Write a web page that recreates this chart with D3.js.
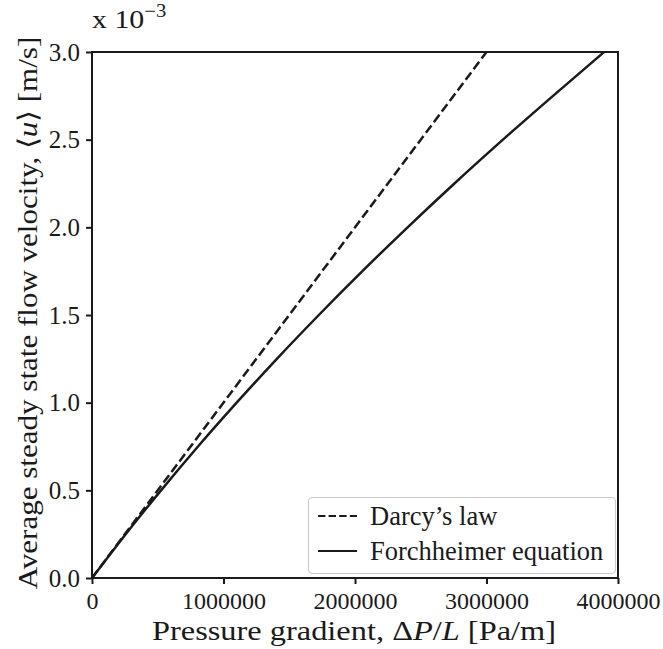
<!DOCTYPE html>
<html>
<head>
<meta charset="utf-8">
<script src="https://cdn.jsdelivr.net/npm/d3@7"></script>
</head>
<body style="margin:0">
<svg id="chart" width="663" height="649"></svg>
<script>
// Data (velocity in units of 1e-3 m/s)
const darcyPressure = [0, 3000000];
const darcyVelocity = [0, 3.0];
const forchVelocity = [0, 0.25, 0.5, 0.75, 1.0, 1.25, 1.5, 1.75, 2.0, 2.25, 2.5, 2.75, 3.0];
const forchPressure = [0, 256000, 525000, 806000, 1100000, 1406000, 1725000, 2056000, 2400000, 2756000, 3125000, 3506000, 3895000];
const xTicks = [0, 1000000, 2000000, 3000000, 4000000];
const yTicks = [0.0, 0.5, 1.0, 1.5, 2.0, 2.5, 3.0];
const legendLabels = ["Darcy\u2019s law", "Forchheimer equation"];

const FONT = "Liberation Serif";
const svg = d3.select("#chart");
const m = { left: 92, top: 52, right: 618, bottom: 578 };
const x = d3.scaleLinear().domain([0, 4000000]).range([m.left, m.right]);
const y = d3.scaleLinear().domain([0, 3.0]).range([m.bottom, m.top]);
const ink = "#1a1a1a";

function serif(sel) { return sel.attr("font-family", FONT).style("font-family", FONT); }

svg.append("clipPath").attr("id", "clip").append("rect")
  .attr("x", m.left).attr("y", m.top).attr("width", m.right - m.left).attr("height", m.bottom - m.top);

const line = d3.line().x(d => x(d[0])).y(d => y(d[1]));
const darcy = darcyPressure.map((p, i) => [p, darcyVelocity[i]]);
const forch = forchPressure.map((p, i) => [p, forchVelocity[i]]);

const g = svg.append("g").attr("clip-path", "url(#clip)");
g.append("path").datum(darcy).attr("d", line).attr("fill", "none")
  .attr("stroke", ink).attr("stroke-width", 2.5).attr("stroke-dasharray", "9.25,4");
g.append("path").datum(forch).attr("d", d3.line().curve(d3.curveMonotoneX).x(d => x(d[0])).y(d => y(d[1])))
  .attr("fill", "none").attr("stroke", ink).attr("stroke-width", 2.5);

// Axes
const xAxis = d3.axisBottom(x).tickValues(xTicks).tickFormat(d => String(d)).tickSize(6).tickPadding(8);
const yAxis = d3.axisLeft(y).tickValues(yTicks).tickFormat(d3.format(".1f")).tickSize(6).tickPadding(6);
const gx = svg.append("g").attr("transform", `translate(0,${m.bottom})`).call(xAxis);
const gy = svg.append("g").attr("transform", `translate(${m.left},0)`).call(yAxis);
[gx, gy].forEach(a => {
  serif(a).attr("font-size", 24);
  a.select(".domain").remove();
  a.selectAll(".tick line").attr("stroke", ink).attr("stroke-width", 2);
  serif(a.selectAll(".tick text")).attr("font-size", 24).attr("fill", ink);
});
serif(gy.selectAll(".tick text")).attr("font-size", 25).attr("dy", "0.33em");

// Frame
svg.append("rect").attr("x", m.left).attr("y", m.top)
  .attr("width", m.right - m.left).attr("height", m.bottom - m.top)
  .attr("fill", "none").attr("stroke", ink).attr("stroke-width", 2);

// Axis labels (Computer-Modern-like width: stretched horizontally)
const xl = serif(svg.append("text"))
  .attr("transform", `translate(${(m.left + m.right) / 2 - 1},640) scale(1.2,1)`)
  .attr("text-anchor", "middle").attr("font-size", 27).attr("fill", ink);
xl.append("tspan").text("Pressure gradient, \u0394");
xl.append("tspan").attr("font-style", "italic").text("P");
xl.append("tspan").text("/");
xl.append("tspan").attr("font-style", "italic").text("L");
xl.append("tspan").text(" [Pa/m]");

const yl = serif(svg.append("text"))
  .attr("transform", `translate(37,${(m.top + m.bottom) / 2 - 2}) rotate(-90) scale(1.15,1)`)
  .attr("text-anchor", "middle").attr("font-size", 27).attr("fill", ink);
yl.append("tspan").text("Average steady state flow velocity, \u27E8");
yl.append("tspan").attr("font-style", "italic").text("u");
yl.append("tspan").text("\u27E9 [m/s]");

// Offset text
const off = serif(svg.append("text")).attr("transform", `translate(${m.left},28) scale(1.15,1)`)
  .attr("font-size", 26).attr("fill", ink);
off.append("tspan").text("x 10");
off.append("tspan").attr("font-size", 18).attr("dy", -11).text("\u22123");

// Legend
const lg = svg.append("g");
lg.append("rect").attr("x", 308.5).attr("y", 497.5).attr("width", 307).attr("height", 76)
  .attr("rx", 4).attr("fill", "#fff").attr("fill-opacity", 0.8)
  .attr("stroke", "#cccccc").attr("stroke-width", 1.2);
const rowsY = [516, 551];
legendLabels.forEach((lab, i) => {
  lg.append("line").attr("x1", 318).attr("x2", 357).attr("y1", rowsY[i]).attr("y2", rowsY[i])
    .attr("stroke", ink).attr("stroke-width", 2)
    .attr("stroke-dasharray", i === 0 ? "7.4,3.2" : null);
  serif(lg.append("text")).attr("x", 370).attr("y", rowsY[i]).attr("dy", "0.33em")
    .attr("font-size", 26.5).attr("fill", ink).text(lab);
});
</script>
</body>
</html>
